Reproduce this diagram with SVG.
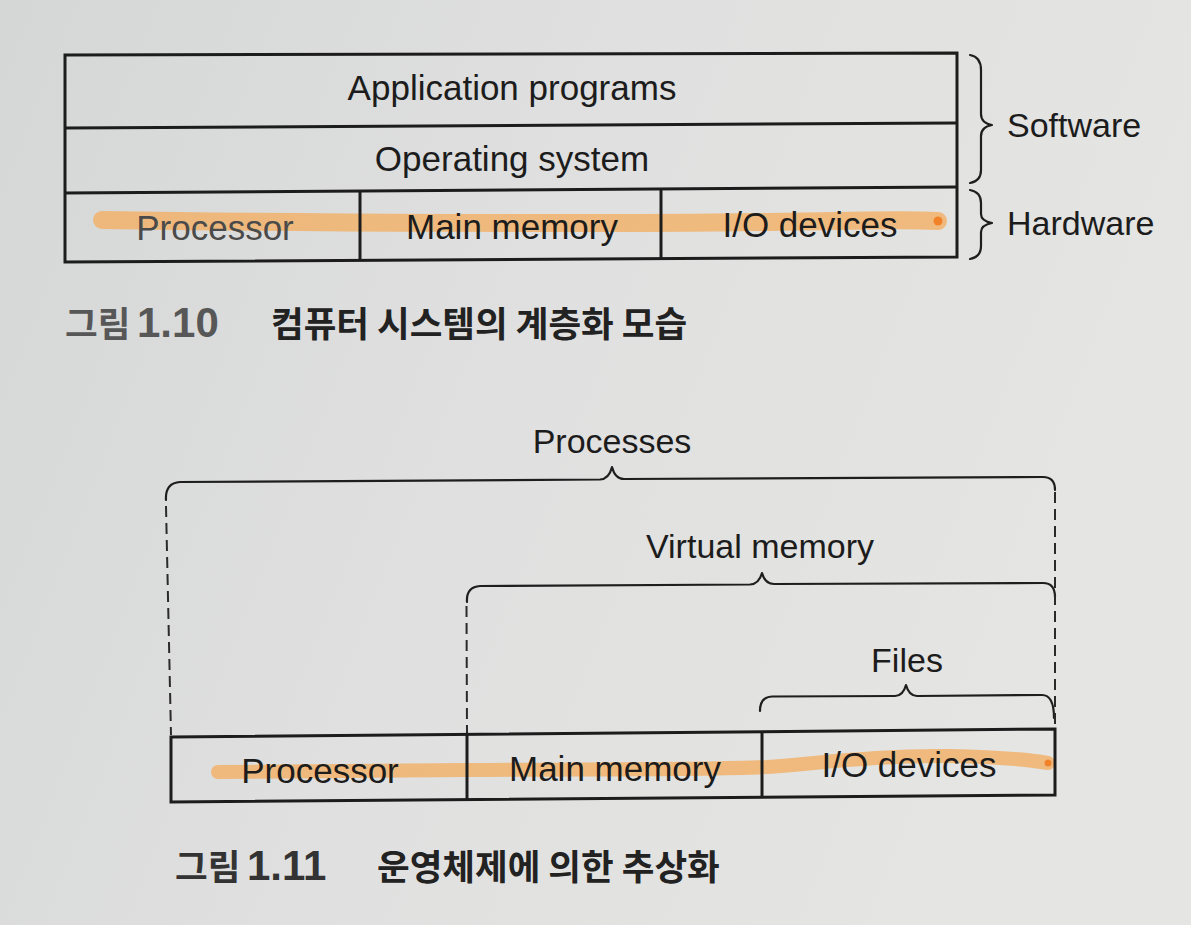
<svg xmlns="http://www.w3.org/2000/svg" width="1191" height="925" viewBox="0 0 1191 925">
  <defs>
    <linearGradient id="paper" x1="0" y1="0" x2="1" y2="0.3">
      <stop offset="0" stop-color="#d5d7d6"/>
      <stop offset="0.5" stop-color="#dfe0df"/>
      <stop offset="1" stop-color="#e5e5e3"/>
    </linearGradient>
  </defs>
  <style>
    .box { fill: none; stroke: #1c1c1c; stroke-width: 3; stroke-linejoin: miter; }
    .div { stroke: #1c1c1c; stroke-width: 3; }
    .brace { fill: none; stroke: #1e1e1e; stroke-width: 2.2; stroke-linejoin: round; stroke-linecap: round; }
    .dash { fill: none; stroke: #2a2a2a; stroke-width: 2; stroke-dasharray: 11 6; }
    .lbl { font-family: "Liberation Sans", Arial, sans-serif; font-size: 35px; fill: #1c1c1c; text-anchor: middle; }
    .side { font-family: "Liberation Sans", Arial, sans-serif; font-size: 34px; fill: #1c1c1c; }
    .cap { font-family: "Noto Sans CJK KR", sans-serif; font-size: 35.5px; font-weight: bold; fill: #222; }
    .capword { font-family: "Noto Sans CJK KR", sans-serif; font-size: 35.5px; font-weight: bold; }
    .capdigits { font-family: "Liberation Sans", Arial, sans-serif; font-size: 42px; font-weight: bold; }
    .hl { fill: none; stroke: #f4ae62; stroke-opacity: 0.78; stroke-linecap: round; stroke-linejoin: round; }
  </style>

  <!-- paper -->
  <rect x="0" y="0" width="1191" height="925" fill="url(#paper)"/>

  <!-- marker strokes under the hardware labels -->
  <g id="highlights">
    <path class="hl" stroke-width="18" d="M102,220 C300,223 600,224 760,222 C850,221 900,219 938,221"/>
    <circle cx="938" cy="221" r="4.5" fill="#f2822a"/>
    <path class="hl" stroke-width="14" d="M218,772 L467,770 C600,769 700,770 767,767 C820,763 880,755 950,756 C1000,757 1030,760 1048,763"/>
    <circle cx="1048" cy="763" r="3.5" fill="#f2822a"/>
  </g>

  <!-- Figure 1.10: layered computer system -->
  <g id="fig110-frame">
    <polygon class="box" points="65,55 957,53 957,257 65,262"/>
  </g>
  <g id="app-programs">
    <line class="div" x1="65" y1="128" x2="957" y2="123"/>
    <text class="lbl" x="512" y="100">Application programs</text>
  </g>
  <g id="operating-system">
    <line class="div" x1="65" y1="193" x2="957" y2="187"/>
    <text class="lbl" x="512" y="171">Operating system</text>
  </g>
  <g id="hw-processor">
    <text class="lbl" x="215" y="240" style="fill:#4a4a4a">Processor</text>
  </g>
  <g id="hw-main-memory">
    <line class="div" x1="360" y1="191" x2="360" y2="261"/>
    <text class="lbl" x="512" y="239">Main memory</text>
  </g>
  <g id="hw-io-devices">
    <line class="div" x1="661" y1="189" x2="661" y2="259"/>
    <text class="lbl" x="810" y="237">I/O devices</text>
  </g>
  <g id="software-brace">
    <path class="brace" d="M970,55 Q981,57 981,70 L981,114 Q981,123 992,125 Q981,127 981,136 L981,170 Q981,181 970,183"/>
    <text class="side" x="1007" y="137">Software</text>
  </g>
  <g id="hardware-brace">
    <path class="brace" d="M970,190 Q981,192 981,203 L981,214 Q981,221 992,223 Q981,225 981,232 L981,246 Q981,257 970,259"/>
    <text class="side" x="1007" y="235">Hardware</text>
  </g>
  <g id="caption-110">
    <text x="65" y="337" fill="#575757"><tspan class="capword">그림</tspan><tspan class="capdigits" x="137">1.10</tspan></text>
    <text class="cap" x="271" y="337">컴퓨터 시스템의 계층화 모습</text>
  </g>

  <!-- Figure 1.11: abstractions provided by the OS -->
  <g id="fig111-frame">
    <polygon class="box" points="171,737 1055,729 1055,795 171,802"/>
  </g>
  <g id="processor">
    <text class="lbl" x="320" y="783">Processor</text>
  </g>
  <g id="main-memory">
    <line class="div" x1="467" y1="734" x2="467" y2="800"/>
    <text class="lbl" x="615" y="781">Main memory</text>
  </g>
  <g id="io-devices">
    <line class="div" x1="762" y1="731" x2="762" y2="797"/>
    <text class="lbl" x="909" y="777">I/O devices</text>
  </g>

  <g id="connectors">
    <!-- Processes spans all three -->
    <path class="brace" d="M166,500 Q165,483 180,482 L600,479.5 Q609,479 612,467 Q615,479 624,479 L1043,477 Q1055,477 1055,490"/>
    <line class="dash" x1="166" y1="506" x2="171" y2="735"/>
    <!-- Virtual memory spans main memory and I/O -->
    <path class="brace" d="M467,602 Q466,587 480,586 L750,584.5 Q759,584 762,573 Q765,584 774,584 L1043,583 Q1055,583 1055,597"/>
    <line class="dash" x1="466.5" y1="606" x2="467" y2="733"/>
    <!-- Files spans I/O devices -->
    <path class="brace" d="M760,711 Q760,697 772,696.5 L895,696 Q903,696 906,685 Q909,696 917,696 L1042,695 Q1054,695 1054,718"/>
    <line class="dash" x1="1055" y1="492" x2="1055" y2="728"/>
  </g>
  <g id="processes-label">
    <text class="side" x="612" y="453" text-anchor="middle">Processes</text>
  </g>
  <g id="virtual-memory-label">
    <text class="side" x="760" y="558" text-anchor="middle">Virtual memory</text>
  </g>
  <g id="files-label">
    <text class="side" x="907" y="672" text-anchor="middle">Files</text>
  </g>
  <g id="caption-111">
    <text x="175" y="880" fill="#333"><tspan class="capword">그림</tspan><tspan class="capdigits" x="247">1.11</tspan></text>
    <text class="cap" x="377" y="880">운영체제에 의한 추상화</text>
  </g>
</svg>
